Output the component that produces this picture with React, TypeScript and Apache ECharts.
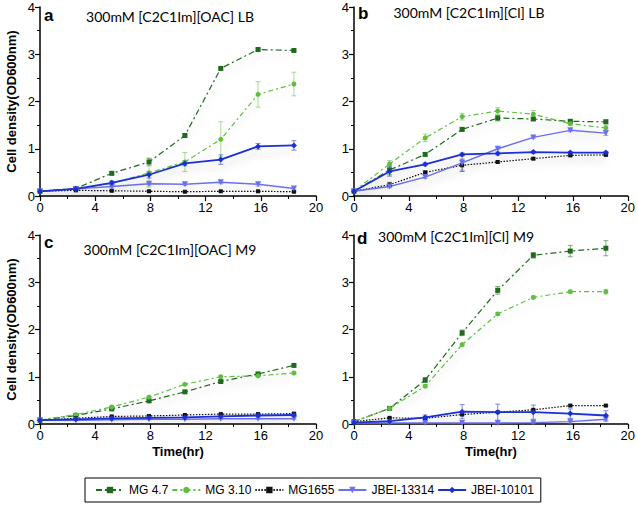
import React, { useEffect, useRef } from "react";
import * as echarts from "echarts";

// ---- data ----
const times = [0, 2.6, 5.2, 7.9, 10.5, 13.1, 15.8, 18.4];
const seriesNames = ["MG 4.7", "MG 3.10", "MG1655", "JBEI-13314", "JBEI-10101"];
const panelLetters = ["a", "b", "c", "d"];
const panelTitles = [
  "300mM [C2C1Im][OAC] LB",
  "300mM [C2C1Im][Cl] LB",
  "300mM [C2C1Im][OAC] M9",
  "300mM [C2C1Im][Cl] M9",
];
const xTicks = [0, 4, 8, 12, 16, 20];
const yTicks = [0, 1, 2, 3, 4];

// panel a
const aMG47 = [0.1, 0.16, 0.48, 0.72, 1.28, 2.7, 3.1, 3.08];
const aMG310 = [0.1, 0.15, 0.27, 0.49, 0.72, 1.2, 2.15, 2.37];
const aMG1655 = [0.1, 0.12, 0.11, 0.1, 0.09, 0.1, 0.1, 0.09];
const aJ13314 = [0.1, 0.15, 0.2, 0.26, 0.25, 0.29, 0.25, 0.16];
const aJ10101 = [0.1, 0.15, 0.28, 0.45, 0.69, 0.77, 1.05, 1.07];
const aErrMG47 = [0, 0.02, 0.03, 0.08, 0.03, 0.03, 0.02, 0.02];
const aErrMG310 = [0, 0.02, 0.03, 0.3, 0.2, 0.37, 0.27, 0.25];
const aErrMG1655 = [0, 0.01, 0.01, 0.01, 0.01, 0.01, 0.01, 0.01];
const aErrJ13314 = [0, 0.02, 0.03, 0.03, 0.03, 0.03, 0.04, 0.03];
const aErrJ10101 = [0, 0.02, 0.04, 0.07, 0.05, 0.1, 0.06, 0.1];

// panel b
const bMG47 = [0.1, 0.55, 0.88, 1.41, 1.65, 1.63, 1.58, 1.57];
const bMG310 = [0.1, 0.68, 1.23, 1.68, 1.8, 1.73, 1.53, 1.44];
const bMG1655 = [0.1, 0.24, 0.5, 0.65, 0.72, 0.79, 0.86, 0.87];
const bJ13314 = [0.1, 0.2, 0.4, 0.7, 1.0, 1.24, 1.39, 1.33];
const bJ10101 = [0.1, 0.52, 0.67, 0.88, 0.9, 0.93, 0.92, 0.92];
const bErrMG47 = [0, 0.1, 0.03, 0.03, 0.06, 0.03, 0.03, 0.04];
const bErrMG310 = [0, 0.07, 0.08, 0.07, 0.07, 0.08, 0.04, 0.05];
const bErrMG1655 = [0, 0.05, 0.03, 0.13, 0.02, 0.02, 0.02, 0.02];
const bErrJ13314 = [0, 0.03, 0.03, 0.15, 0.02, 0.02, 0.03, 0.05];
const bErrJ10101 = [0, 0.1, 0.03, 0.03, 0.03, 0.02, 0.02, 0.02];

// panel c
const cMG47 = [0.08, 0.18, 0.32, 0.49, 0.68, 0.9, 1.06, 1.24];
const cMG310 = [0.08, 0.2, 0.36, 0.57, 0.84, 1.0, 1.02, 1.08];
const cMG1655 = [0.08, 0.12, 0.16, 0.17, 0.19, 0.21, 0.21, 0.22];
const cJ13314 = [0.08, 0.08, 0.09, 0.1, 0.1, 0.11, 0.11, 0.11];
const cJ10101 = [0.08, 0.1, 0.12, 0.13, 0.14, 0.16, 0.18, 0.19];
const cErrMG47 = [0, 0.02, 0.02, 0.02, 0.02, 0.02, 0.02, 0.02];
const cErrMG310 = [0, 0.02, 0.02, 0.02, 0.02, 0.02, 0.02, 0.02];
const cErrMG1655 = [0, 0.01, 0.01, 0.01, 0.01, 0.01, 0.01, 0.02];
const cErrJ13314 = [0, 0.01, 0.01, 0.01, 0.01, 0.01, 0.01, 0.01];
const cErrJ10101 = [0, 0.01, 0.01, 0.01, 0.01, 0.02, 0.02, 0.03];

// panel d
const dMG47 = [0.05, 0.33, 0.93, 1.93, 2.83, 3.57, 3.66, 3.72];
const dMG310 = [0.05, 0.33, 0.8, 1.68, 2.33, 2.68, 2.8, 2.8];
const dMG1655 = [0.05, 0.13, 0.12, 0.2, 0.25, 0.3, 0.39, 0.39];
const dJ13314 = [0.02, 0.02, 0.02, 0.02, 0.02, 0.03, 0.05, 0.1];
const dJ10101 = [0.03, 0.06, 0.14, 0.26, 0.25, 0.25, 0.22, 0.18];
const dErrMG47 = [0, 0.02, 0.05, 0.06, 0.08, 0.06, 0.12, 0.16];
const dErrMG310 = [0, 0.02, 0.03, 0.03, 0.03, 0.03, 0.03, 0.05];
const dErrMG1655 = [0, 0.01, 0.01, 0.01, 0.01, 0.01, 0.01, 0.01];
const dErrJ13314 = [0, 0.01, 0.01, 0.01, 0.01, 0.02, 0.03, 0.05];
const dErrJ10101 = [0, 0.02, 0.05, 0.15, 0.17, 0.15, 0.1, 0.1];

const panelValues = [
  [aMG47, aMG310, aMG1655, aJ13314, aJ10101],
  [bMG47, bMG310, bMG1655, bJ13314, bJ10101],
  [cMG47, cMG310, cMG1655, cJ13314, cJ10101],
  [dMG47, dMG310, dMG1655, dJ13314, dJ10101],
];
const panelErrors = [
  [aErrMG47, aErrMG310, aErrMG1655, aErrJ13314, aErrJ10101],
  [bErrMG47, bErrMG310, bErrMG1655, bErrJ13314, bErrJ10101],
  [cErrMG47, cErrMG310, cErrMG1655, cErrJ13314, cErrJ10101],
  [dErrMG47, dErrMG310, dErrMG1655, dErrJ13314, dErrJ10101],
];

// ---- styles ----
const colors = ["#1f6a1f", "#5fbf3c", "#111111", "#6b70ee", "#1a2fd6"];
const dashes: any[] = [[6, 3, 2, 3], [5, 3, 2, 3], [1.5, 1.5], "solid", "solid"];
const symbols = ["rect", "circle", "rect", "path://M0,0 L10,0 L5,8 Z", "diamond"];
const symbolSizes = [5, 5, 4, 6, 6];
const lineWidths = [1.2, 1.2, 1.2, 1.4, 1.8];

const grids = [
  { left: 40, top: 7, width: 276, height: 189 },
  { left: 354, top: 7, width: 277, height: 189 },
  { left: 40, top: 235, width: 276, height: 189 },
  { left: 354, top: 235, width: 277, height: 189 },
];
const letterPos = [
  [44, 15],
  [358, 13],
  [44, 242],
  [357, 238],
];
const titlePos = [
  [170, 16],
  [469, 12],
  [170, 249],
  [456, 236],
];

const labelFont = "Liberation Sans, Arial, sans-serif";

export default function App() {
  const ref = useRef<HTMLDivElement>(null);
  useEffect(() => {
    if (!ref.current) return;
    const chart = echarts.init(ref.current, undefined, { renderer: "svg" });

    const xAxis: any[] = [];
    const yAxis: any[] = [];
    const series: any[] = [];
    const graphic: any[] = [];

    grids.forEach((g, p) => {
      xAxis.push({
        gridIndex: p,
        type: "value",
        min: xTicks[0],
        max: xTicks[xTicks.length - 1],
        interval: xTicks[1] - xTicks[0],
        name: p >= 2 ? "Time(hr)" : "",
        nameLocation: "middle",
        nameGap: 21,
        nameTextStyle: { fontFamily: labelFont, fontWeight: "bold", fontSize: 13, color: "#000" },
        axisLine: { onZero: false, lineStyle: { color: "#000", width: 1.5 } },
        axisTick: { length: 5, lineStyle: { color: "#000", width: 1.2 } },
        minorTick: { show: true, splitNumber: 2, length: 3, lineStyle: { color: "#000", width: 1 } },
        axisLabel: { fontFamily: labelFont, fontSize: 13, color: "#000", margin: 5 },
        splitLine: { show: false },
      });
      yAxis.push({
        gridIndex: p,
        type: "value",
        min: yTicks[0],
        max: yTicks[yTicks.length - 1],
        interval: yTicks[1] - yTicks[0],
        name: p % 2 === 0 ? "Cell density(OD600nm)" : "",
        nameLocation: "middle",
        nameGap: 22,
        nameRotate: 90,
        nameTextStyle: { fontFamily: labelFont, fontWeight: "bold", fontSize: 13, color: "#000" },
        axisLine: { show: true, lineStyle: { color: "#000", width: 1.5 } },
        axisTick: { show: true, length: 5, lineStyle: { color: "#000", width: 1.2 } },
        minorTick: { show: true, splitNumber: 2, length: 3, lineStyle: { color: "#000", width: 1 } },
        axisLabel: { fontFamily: labelFont, fontSize: 13, color: "#000", margin: 5 },
        splitLine: { show: false },
      });

      seriesNames.forEach((name, s) => {
        const vals = panelValues[p][s];
        const errs = panelErrors[p][s];
        series.push({
          type: "custom",
          name: name + " err " + p,
          xAxisIndex: p,
          yAxisIndex: p,
          z: 1,
          silent: true,
          data: times.map((t, i) => [t, vals[i], errs[i]]),
          renderItem: (params: any, api: any) => {
            const x = api.value(0);
            const y = api.value(1);
            const e = api.value(2);
            if (!e) return null;
            const top = api.coord([x, y + e]);
            const bot = api.coord([x, y - e]);
            const style = { stroke: colors[s], lineWidth: 1, opacity: 0.55 };
            return {
              type: "group",
              children: [
                { type: "line", shape: { x1: top[0], y1: top[1], x2: bot[0], y2: bot[1] }, style },
                { type: "line", shape: { x1: top[0] - 2.5, y1: top[1], x2: top[0] + 2.5, y2: top[1] }, style },
                { type: "line", shape: { x1: bot[0] - 2.5, y1: bot[1], x2: bot[0] + 2.5, y2: bot[1] }, style },
              ],
            };
          },
        });
        series.push({
          type: "line",
          name,
          xAxisIndex: p,
          yAxisIndex: p,
          z: 2,
          data: times.map((t, i) => [t, vals[i]]),
          symbol: symbols[s],
          symbolSize: symbolSizes[s],
          showAllSymbol: true,
          itemStyle: { color: colors[s] },
          lineStyle: {
            color: colors[s],
            width: lineWidths[s],
            type: dashes[s],
            shadowColor: "rgba(0,0,0,0.18)",
            shadowBlur: 8,
            shadowOffsetY: 6,
          },
        });
      });

      graphic.push({
        type: "text",
        x: letterPos[p][0],
        y: letterPos[p][1],
        style: {
          text: panelLetters[p],
          font: "bold 17px " + labelFont,
          fill: "#000",
          textVerticalAlign: "middle",
        },
      });
      graphic.push({
        type: "text",
        x: titlePos[p][0],
        y: titlePos[p][1],
        style: {
          text: panelTitles[p],
          font: "14px Lato, 'Open Sans', sans-serif",
          fill: "#000",
          textAlign: "center",
          textVerticalAlign: "middle",
        },
      });
    });

    chart.setOption({
      animation: false,
      backgroundColor: "#fff",
      grid: grids,
      xAxis,
      yAxis,
      series,
      graphic,
      legend: {
        data: seriesNames,
        left: 85,
        top: 478,
        padding: [6, 7, 6, 10],
        itemGap: 3,
        itemWidth: 28,
        itemHeight: 8,
        borderColor: "#000",
        borderWidth: 1,
        textStyle: { fontFamily: labelFont, fontSize: 12, color: "#000" },
      },
    });
    return () => chart.dispose();
  }, []);
  return (
    <div
      ref={ref}
      style={{ position: "fixed", left: 0, top: 0, width: 638, height: 510 }}
    />
  );
}
